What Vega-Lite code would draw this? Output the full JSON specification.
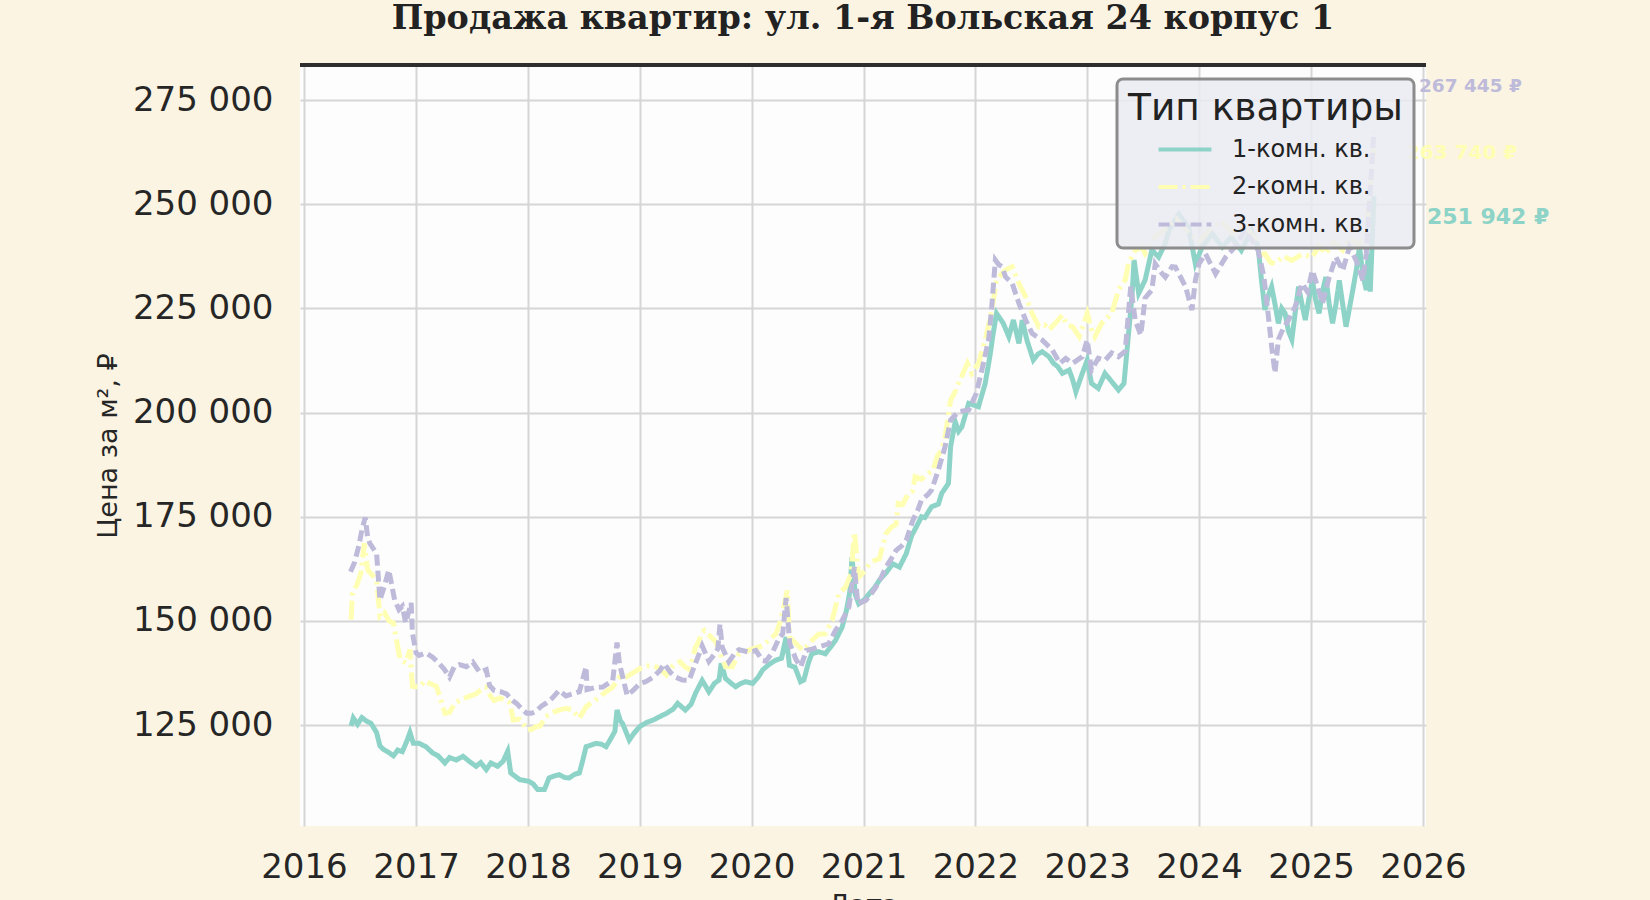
{
  "$schema": "https://vega.github.io/schema/vega-lite/v6.json",
  "width": 1126,
  "height": 761,
  "autosize": "none",
  "padding": {"left": 300, "top": 65, "right": 224, "bottom": 74},
  "background": "#FBF4E2",
  "title": {
    "text": "Продажа квартир: ул. 1-я Вольская 24 корпус 1",
    "font": "DejaVu Serif",
    "fontWeight": "bold",
    "fontSize": 33.4,
    "color": "#222222",
    "anchor": "middle",
    "baseline": "alphabetic",
    "offset": 1
  },
  "config": {
    "view": {"fill": "#FDFDFD", "stroke": null},
    "axis": {
      "labelFont": "DejaVu Sans",
      "labelFontSize": 34,
      "labelColor": "#262626",
      "titleFont": "DejaVu Sans",
      "titleFontSize": 27,
      "titleFontWeight": "normal",
      "titleColor": "#262626",
      "ticks": false,
      "domain": false,
      "grid": true,
      "gridColor": "#D6D6D6",
      "gridWidth": 2
    },
    "legend": {
      "orient": "none",
      "legendX": 817,
      "legendY": 14,
      "titleFont": "DejaVu Sans",
      "titleFontSize": 37.5,
      "titleFontWeight": "normal",
      "titleColor": "#222222",
      "titlePadding": 8,
      "titleLimit": 500,
      "labelLimit": 400,
      "labelFont": "DejaVu Sans",
      "labelFontSize": 24,
      "labelColor": "#222222",
      "symbolType": "M-2.2,0H2.2",
      "symbolSize": 576,
      "symbolStrokeWidth": 4,
      "symbolOffset": 43,
      "labelOffset": 33,
      "rowPadding": 11.5,
      "padding": 11,
      "fillColor": "rgba(234,234,242,0.85)",
      "strokeColor": "#8C8C8C",
      "strokeWidth": 3,
      "cornerRadius": 6
    }
  },
  "datasets": {
    "ends": [
      {"type": "1-комн. кв.", "date": "2025-07-25", "price": 251942, "label": "251 942 ₽"},
      {"type": "2-комн. кв.", "date": "2025-07-25", "price": 263740, "label": "263 740 ₽"},
      {"type": "3-комн. кв.", "date": "2025-07-25", "price": 267445, "label": "267 445 ₽"}
    ],
    "prices": [
{"type":"1-комн. кв.","date":"2016-06-03","price":124800},{"type":"1-комн. кв.","date":"2016-06-10","price":126700},{"type":"1-комн. кв.","date":"2016-06-24","price":125200},{"type":"1-комн. кв.","date":"2016-07-08","price":126800},{"type":"1-комн. кв.","date":"2016-07-22","price":126000},{"type":"1-комн. кв.","date":"2016-08-07","price":125400},{"type":"1-комн. кв.","date":"2016-08-25","price":123200},{"type":"1-комн. кв.","date":"2016-09-05","price":120000},{"type":"1-комн. кв.","date":"2016-09-16","price":119200},{"type":"1-комн. кв.","date":"2016-10-04","price":118400},{"type":"1-комн. кв.","date":"2016-10-19","price":117600},{"type":"1-комн. кв.","date":"2016-11-02","price":119000},{"type":"1-комн. кв.","date":"2016-11-17","price":118600},{"type":"1-комн. кв.","date":"2016-12-01","price":121000},{"type":"1-комн. кв.","date":"2016-12-12","price":123200},{"type":"1-комн. кв.","date":"2016-12-23","price":120600},{"type":"1-комн. кв.","date":"2017-01-11","price":120600},{"type":"1-комн. кв.","date":"2017-02-02","price":119800},{"type":"1-комн. кв.","date":"2017-02-24","price":118300},{"type":"1-комн. кв.","date":"2017-03-14","price":117600},{"type":"1-комн. кв.","date":"2017-04-05","price":115900},{"type":"1-комн. кв.","date":"2017-04-20","price":117200},{"type":"1-комн. кв.","date":"2017-05-12","price":116600},{"type":"1-комн. кв.","date":"2017-06-03","price":117500},{"type":"1-комн. кв.","date":"2017-06-25","price":116200},{"type":"1-комн. кв.","date":"2017-07-16","price":115100},{"type":"1-комн. кв.","date":"2017-07-31","price":116000},{"type":"1-комн. кв.","date":"2017-08-18","price":114300},{"type":"1-комн. кв.","date":"2017-09-02","price":115900},{"type":"1-комн. кв.","date":"2017-09-24","price":115100},{"type":"1-комн. кв.","date":"2017-10-12","price":116300},{"type":"1-комн. кв.","date":"2017-10-27","price":118700},{"type":"1-комн. кв.","date":"2017-11-06","price":113500},{"type":"1-комн. кв.","date":"2017-12-05","price":111900},{"type":"1-комн. кв.","date":"2018-01-04","price":111500},{"type":"1-комн. кв.","date":"2018-01-19","price":110800},{"type":"1-комн. кв.","date":"2018-02-02","price":109500},{"type":"1-комн. кв.","date":"2018-02-24","price":109500},{"type":"1-комн. кв.","date":"2018-03-11","price":112300},{"type":"1-комн. кв.","date":"2018-03-29","price":112800},{"type":"1-комн. кв.","date":"2018-04-13","price":113100},{"type":"1-комн. кв.","date":"2018-05-01","price":112400},{"type":"1-комн. кв.","date":"2018-05-16","price":112300},{"type":"1-комн. кв.","date":"2018-06-03","price":113200},{"type":"1-комн. кв.","date":"2018-06-18","price":113500},{"type":"1-комн. кв.","date":"2018-06-29","price":116500},{"type":"1-комн. кв.","date":"2018-07-10","price":119800},{"type":"1-комн. кв.","date":"2018-07-27","price":120200},{"type":"1-комн. кв.","date":"2018-08-11","price":120600},{"type":"1-комн. кв.","date":"2018-08-29","price":120400},{"type":"1-комн. кв.","date":"2018-09-13","price":119800},{"type":"1-комн. кв.","date":"2018-09-27","price":121500},{"type":"1-комн. кв.","date":"2018-10-12","price":123500},{"type":"1-комн. кв.","date":"2018-10-19","price":128600},{"type":"1-комн. кв.","date":"2018-10-30","price":126000},{"type":"1-комн. кв.","date":"2018-11-06","price":125400},{"type":"1-комн. кв.","date":"2018-11-28","price":121400},{"type":"1-комн. кв.","date":"2018-12-13","price":123000},{"type":"1-комн. кв.","date":"2019-01-01","price":124600},{"type":"1-комн. кв.","date":"2019-01-23","price":125600},{"type":"1-комн. кв.","date":"2019-02-14","price":126200},{"type":"1-комн. кв.","date":"2019-03-07","price":127000},{"type":"1-комн. кв.","date":"2019-03-29","price":127800},{"type":"1-комн. кв.","date":"2019-04-20","price":128800},{"type":"1-комн. кв.","date":"2019-05-05","price":130200},{"type":"1-комн. кв.","date":"2019-05-30","price":128600},{"type":"1-комн. кв.","date":"2019-06-18","price":130000},{"type":"1-комн. кв.","date":"2019-07-02","price":132600},{"type":"1-комн. кв.","date":"2019-07-24","price":135700},{"type":"1-комн. кв.","date":"2019-08-15","price":133000},{"type":"1-комн. кв.","date":"2019-09-02","price":135000},{"type":"1-комн. кв.","date":"2019-09-17","price":135800},{"type":"1-комн. кв.","date":"2019-09-24","price":139800},{"type":"1-комн. кв.","date":"2019-10-08","price":136200},{"type":"1-комн. кв.","date":"2019-10-27","price":135000},{"type":"1-комн. кв.","date":"2019-11-10","price":134200},{"type":"1-комн. кв.","date":"2019-11-28","price":135000},{"type":"1-комн. кв.","date":"2019-12-13","price":135400},{"type":"1-комн. кв.","date":"2020-01-05","price":135000},{"type":"1-комн. кв.","date":"2020-01-23","price":136500},{"type":"1-комн. кв.","date":"2020-02-06","price":138200},{"type":"1-комн. кв.","date":"2020-02-28","price":139600},{"type":"1-комн. кв.","date":"2020-03-21","price":140600},{"type":"1-комн. кв.","date":"2020-04-08","price":141000},{"type":"1-комн. кв.","date":"2020-04-23","price":146100},{"type":"1-комн. кв.","date":"2020-05-04","price":139300},{"type":"1-комн. кв.","date":"2020-05-22","price":138900},{"type":"1-комн. кв.","date":"2020-06-09","price":135400},{"type":"1-комн. кв.","date":"2020-06-20","price":135800},{"type":"1-комн. кв.","date":"2020-07-05","price":140000},{"type":"1-комн. кв.","date":"2020-07-16","price":142100},{"type":"1-комн. кв.","date":"2020-08-07","price":142600},{"type":"1-комн. кв.","date":"2020-08-29","price":142100},{"type":"1-комн. кв.","date":"2020-09-16","price":143800},{"type":"1-комн. кв.","date":"2020-10-01","price":145300},{"type":"1-комн. кв.","date":"2020-10-23","price":148500},{"type":"1-комн. кв.","date":"2020-11-06","price":152500},{"type":"1-комн. кв.","date":"2020-11-17","price":157000},{"type":"1-комн. кв.","date":"2020-11-24","price":165300},{"type":"1-комн. кв.","date":"2020-12-05","price":156300},{"type":"1-комн. кв.","date":"2020-12-16","price":154100},{"type":"1-комн. кв.","date":"2021-01-05","price":155200},{"type":"1-комн. кв.","date":"2021-01-19","price":156500},{"type":"1-комн. кв.","date":"2021-02-06","price":158000},{"type":"1-комн. кв.","date":"2021-02-21","price":159700},{"type":"1-комн. кв.","date":"2021-03-15","price":161500},{"type":"1-комн. кв.","date":"2021-04-06","price":163700},{"type":"1-комн. кв.","date":"2021-04-28","price":162900},{"type":"1-комн. кв.","date":"2021-05-20","price":166100},{"type":"1-комн. кв.","date":"2021-06-07","price":170500},{"type":"1-комн. кв.","date":"2021-06-21","price":172400},{"type":"1-комн. кв.","date":"2021-07-09","price":175000},{"type":"1-комн. кв.","date":"2021-07-20","price":174800},{"type":"1-комн. кв.","date":"2021-08-11","price":177400},{"type":"1-комн. кв.","date":"2021-09-02","price":178000},{"type":"1-комн. кв.","date":"2021-09-13","price":180600},{"type":"1-комн. кв.","date":"2021-10-05","price":183000},{"type":"1-комн. кв.","date":"2021-10-12","price":191800},{"type":"1-комн. кв.","date":"2021-10-27","price":197800},{"type":"1-комн. кв.","date":"2021-11-07","price":195500},{"type":"1-комн. кв.","date":"2021-11-18","price":196600},{"type":"1-комн. кв.","date":"2021-12-10","price":202200},{"type":"1-комн. кв.","date":"2022-01-11","price":201400},{"type":"1-комн. кв.","date":"2022-02-02","price":207000},{"type":"1-комн. кв.","date":"2022-02-17","price":213400},{"type":"1-комн. кв.","date":"2022-02-28","price":219000},{"type":"1-комн. кв.","date":"2022-03-11","price":223800},{"type":"1-комн. кв.","date":"2022-04-02","price":221400},{"type":"1-комн. кв.","date":"2022-04-20","price":218200},{"type":"1-комн. кв.","date":"2022-05-05","price":222200},{"type":"1-комн. кв.","date":"2022-05-23","price":216600},{"type":"1-комн. кв.","date":"2022-06-03","price":222200},{"type":"1-комн. кв.","date":"2022-06-18","price":217400},{"type":"1-комн. кв.","date":"2022-07-09","price":212600},{"type":"1-комн. кв.","date":"2022-07-24","price":214000},{"type":"1-комн. кв.","date":"2022-08-07","price":214600},{"type":"1-комн. кв.","date":"2022-08-29","price":213400},{"type":"1-комн. кв.","date":"2022-09-13","price":211800},{"type":"1-комн. кв.","date":"2022-09-27","price":211000},{"type":"1-комн. кв.","date":"2022-10-12","price":209400},{"type":"1-комн. кв.","date":"2022-11-03","price":210200},{"type":"1-комн. кв.","date":"2022-11-14","price":208000},{"type":"1-комн. кв.","date":"2022-11-25","price":205000},{"type":"1-комн. кв.","date":"2022-12-16","price":209400},{"type":"1-комн. кв.","date":"2023-01-01","price":212600},{"type":"1-комн. кв.","date":"2023-01-15","price":207000},{"type":"1-комн. кв.","date":"2023-02-06","price":205800},{"type":"1-комн. кв.","date":"2023-02-28","price":209400},{"type":"1-комн. кв.","date":"2023-03-22","price":207400},{"type":"1-комн. кв.","date":"2023-04-13","price":205400},{"type":"1-комн. кв.","date":"2023-05-01","price":207000},{"type":"1-комн. кв.","date":"2023-05-12","price":215800},{"type":"1-комн. кв.","date":"2023-05-27","price":227800},{"type":"1-комн. кв.","date":"2023-06-03","price":236600},{"type":"1-комн. кв.","date":"2023-06-18","price":228600},{"type":"1-комн. кв.","date":"2023-07-09","price":231800},{"type":"1-комн. кв.","date":"2023-07-31","price":239000},{"type":"1-комн. кв.","date":"2023-08-22","price":237300},{"type":"1-комн. кв.","date":"2023-09-13","price":240600},{"type":"1-комн. кв.","date":"2023-09-24","price":243700},{"type":"1-комн. кв.","date":"2023-10-27","price":247600},{"type":"1-комн. кв.","date":"2023-11-28","price":244400},{"type":"1-комн. кв.","date":"2023-12-20","price":235700},{"type":"1-комн. кв.","date":"2024-01-11","price":239700},{"type":"1-комн. кв.","date":"2024-02-13","price":242900},{"type":"1-комн. кв.","date":"2024-03-17","price":239700},{"type":"1-комн. кв.","date":"2024-04-15","price":242100},{"type":"1-комн. кв.","date":"2024-05-18","price":238900},{"type":"1-комн. кв.","date":"2024-06-20","price":243700},{"type":"1-комн. кв.","date":"2024-07-12","price":239700},{"type":"1-комн. кв.","date":"2024-07-23","price":231700},{"type":"1-комн. кв.","date":"2024-08-03","price":224600},{"type":"1-комн. кв.","date":"2024-08-14","price":228000},{"type":"1-комн. кв.","date":"2024-08-25","price":230200},{"type":"1-комн. кв.","date":"2024-09-05","price":226000},{"type":"1-комн. кв.","date":"2024-09-16","price":221400},{"type":"1-комн. кв.","date":"2024-09-27","price":225000},{"type":"1-комн. кв.","date":"2024-10-08","price":223800},{"type":"1-комн. кв.","date":"2024-10-19","price":219500},{"type":"1-комн. кв.","date":"2024-10-30","price":217500},{"type":"1-комн. кв.","date":"2024-11-10","price":224000},{"type":"1-комн. кв.","date":"2024-11-21","price":230200},{"type":"1-комн. кв.","date":"2024-12-02","price":226000},{"type":"1-комн. кв.","date":"2024-12-13","price":222200},{"type":"1-комн. кв.","date":"2024-12-24","price":227000},{"type":"1-комн. кв.","date":"2025-01-05","price":231700},{"type":"1-комн. кв.","date":"2025-01-16","price":227000},{"type":"1-комн. кв.","date":"2025-01-27","price":223800},{"type":"1-комн. кв.","date":"2025-02-07","price":229000},{"type":"1-комн. кв.","date":"2025-02-18","price":232500},{"type":"1-комн. кв.","date":"2025-03-01","price":226000},{"type":"1-комн. кв.","date":"2025-03-12","price":221400},{"type":"1-комн. кв.","date":"2025-03-23","price":226000},{"type":"1-комн. кв.","date":"2025-04-03","price":231700},{"type":"1-комн. кв.","date":"2025-04-14","price":226000},{"type":"1-комн. кв.","date":"2025-04-25","price":220600},{"type":"1-комн. кв.","date":"2025-05-06","price":225000},{"type":"1-комн. кв.","date":"2025-05-17","price":229400},{"type":"1-комн. кв.","date":"2025-05-28","price":234000},{"type":"1-комн. кв.","date":"2025-06-08","price":239700},{"type":"1-комн. кв.","date":"2025-06-19","price":233000},{"type":"1-комн. кв.","date":"2025-06-30","price":229400},{"type":"1-комн. кв.","date":"2025-07-06","price":238100},{"type":"1-комн. кв.","date":"2025-07-13","price":229000},{"type":"1-комн. кв.","date":"2025-07-25","price":251942},
{"type":"2-комн. кв.","date":"2016-06-03","price":150300},{"type":"2-комн. кв.","date":"2016-06-07","price":156700},{"type":"2-комн. кв.","date":"2016-06-21","price":158500},{"type":"2-комн. кв.","date":"2016-07-05","price":161500},{"type":"2-комн. кв.","date":"2016-07-16","price":168600},{"type":"2-комн. кв.","date":"2016-07-27","price":162200},{"type":"2-комн. кв.","date":"2016-08-11","price":161000},{"type":"2-комн. кв.","date":"2016-08-25","price":159800},{"type":"2-комн. кв.","date":"2016-09-05","price":151100},{"type":"2-комн. кв.","date":"2016-09-20","price":152000},{"type":"2-комн. кв.","date":"2016-10-04","price":150000},{"type":"2-комн. кв.","date":"2016-10-19","price":149500},{"type":"2-комн. кв.","date":"2016-10-30","price":145000},{"type":"2-комн. кв.","date":"2016-11-10","price":140700},{"type":"2-комн. кв.","date":"2016-11-28","price":139900},{"type":"2-комн. кв.","date":"2016-12-12","price":143100},{"type":"2-комн. кв.","date":"2016-12-20","price":134300},{"type":"2-комн. кв.","date":"2017-01-11","price":134100},{"type":"2-комн. кв.","date":"2017-01-30","price":135600},{"type":"2-комн. кв.","date":"2017-02-17","price":134900},{"type":"2-комн. кв.","date":"2017-03-08","price":134300},{"type":"2-комн. кв.","date":"2017-03-23","price":131000},{"type":"2-комн. кв.","date":"2017-04-05","price":127800},{"type":"2-комн. кв.","date":"2017-04-20","price":128000},{"type":"2-комн. кв.","date":"2017-05-08","price":130300},{"type":"2-комн. кв.","date":"2017-05-23","price":130900},{"type":"2-комн. кв.","date":"2017-06-10","price":131500},{"type":"2-комн. кв.","date":"2017-06-28","price":132000},{"type":"2-комн. кв.","date":"2017-07-16","price":132500},{"type":"2-комн. кв.","date":"2017-07-31","price":133400},{"type":"2-комн. кв.","date":"2017-08-18","price":134100},{"type":"2-комн. кв.","date":"2017-09-02","price":131800},{"type":"2-комн. кв.","date":"2017-09-13","price":130900},{"type":"2-комн. кв.","date":"2017-10-01","price":131500},{"type":"2-комн. кв.","date":"2017-10-23","price":130900},{"type":"2-комн. кв.","date":"2017-11-03","price":130300},{"type":"2-комн. кв.","date":"2017-11-14","price":126200},{"type":"2-комн. кв.","date":"2017-12-05","price":126400},{"type":"2-комн. кв.","date":"2018-01-01","price":123800},{"type":"2-комн. кв.","date":"2018-01-15","price":124000},{"type":"2-комн. кв.","date":"2018-01-26","price":124600},{"type":"2-комн. кв.","date":"2018-02-10","price":124800},{"type":"2-комн. кв.","date":"2018-02-28","price":127000},{"type":"2-комн. кв.","date":"2018-03-22","price":128000},{"type":"2-комн. кв.","date":"2018-04-13","price":128600},{"type":"2-комн. кв.","date":"2018-05-05","price":129000},{"type":"2-комн. кв.","date":"2018-05-27","price":128600},{"type":"2-комн. кв.","date":"2018-06-18","price":126600},{"type":"2-комн. кв.","date":"2018-07-10","price":129400},{"type":"2-комн. кв.","date":"2018-07-31","price":130500},{"type":"2-комн. кв.","date":"2018-08-22","price":131700},{"type":"2-комн. кв.","date":"2018-09-13","price":133000},{"type":"2-комн. кв.","date":"2018-10-05","price":134100},{"type":"2-комн. кв.","date":"2018-10-27","price":136500},{"type":"2-комн. кв.","date":"2018-11-18","price":136500},{"type":"2-комн. кв.","date":"2018-12-10","price":137500},{"type":"2-комн. кв.","date":"2019-01-01","price":138500},{"type":"2-комн. кв.","date":"2019-01-23","price":139200},{"type":"2-комн. кв.","date":"2019-02-14","price":139300},{"type":"2-комн. кв.","date":"2019-03-07","price":138500},{"type":"2-комн. кв.","date":"2019-03-29","price":137000},{"type":"2-комн. кв.","date":"2019-04-20","price":139300},{"type":"2-комн. кв.","date":"2019-05-12","price":140200},{"type":"2-комн. кв.","date":"2019-05-30","price":138900},{"type":"2-комн. кв.","date":"2019-06-14","price":138200},{"type":"2-комн. кв.","date":"2019-07-02","price":143700},{"type":"2-комн. кв.","date":"2019-07-09","price":144500},{"type":"2-комн. кв.","date":"2019-07-24","price":147200},{"type":"2-комн. кв.","date":"2019-07-31","price":147700},{"type":"2-комн. кв.","date":"2019-08-22","price":146100},{"type":"2-комн. кв.","date":"2019-09-06","price":145000},{"type":"2-комн. кв.","date":"2019-09-17","price":142900},{"type":"2-комн. кв.","date":"2019-10-08","price":139000},{"type":"2-комн. кв.","date":"2019-10-30","price":139000},{"type":"2-комн. кв.","date":"2019-11-21","price":142100},{"type":"2-комн. кв.","date":"2019-12-13","price":142700},{"type":"2-комн. кв.","date":"2020-01-05","price":143300},{"type":"2-комн. кв.","date":"2020-02-06","price":144000},{"type":"2-комн. кв.","date":"2020-02-28","price":145500},{"type":"2-комн. кв.","date":"2020-03-21","price":146900},{"type":"2-комн. кв.","date":"2020-04-05","price":150100},{"type":"2-комн. кв.","date":"2020-04-27","price":157300},{"type":"2-комн. кв.","date":"2020-05-04","price":146100},{"type":"2-комн. кв.","date":"2020-05-26","price":144500},{"type":"2-комн. кв.","date":"2020-06-17","price":142900},{"type":"2-комн. кв.","date":"2020-07-02","price":144000},{"type":"2-комн. кв.","date":"2020-07-16","price":145300},{"type":"2-комн. кв.","date":"2020-08-07","price":146800},{"type":"2-комн. кв.","date":"2020-08-29","price":146900},{"type":"2-комн. кв.","date":"2020-09-20","price":150100},{"type":"2-комн. кв.","date":"2020-10-12","price":156500},{"type":"2-комн. кв.","date":"2020-11-03","price":158100},{"type":"2-комн. кв.","date":"2020-11-21","price":161300},{"type":"2-комн. кв.","date":"2020-12-02","price":171300},{"type":"2-комн. кв.","date":"2020-12-16","price":160500},{"type":"2-комн. кв.","date":"2021-01-05","price":162000},{"type":"2-комн. кв.","date":"2021-01-19","price":163700},{"type":"2-комн. кв.","date":"2021-02-06","price":164500},{"type":"2-комн. кв.","date":"2021-02-21","price":164900},{"type":"2-комн. кв.","date":"2021-03-15","price":170900},{"type":"2-комн. кв.","date":"2021-04-02","price":172500},{"type":"2-комн. кв.","date":"2021-04-17","price":173200},{"type":"2-комн. кв.","date":"2021-04-24","price":178200},{"type":"2-комн. кв.","date":"2021-05-09","price":178000},{"type":"2-комн. кв.","date":"2021-05-27","price":180600},{"type":"2-комн. кв.","date":"2021-06-10","price":181200},{"type":"2-комн. кв.","date":"2021-06-18","price":184600},{"type":"2-комн. кв.","date":"2021-07-09","price":184000},{"type":"2-комн. кв.","date":"2021-07-31","price":185400},{"type":"2-комн. кв.","date":"2021-08-15","price":186000},{"type":"2-комн. кв.","date":"2021-08-29","price":189400},{"type":"2-комн. кв.","date":"2021-09-13","price":191000},{"type":"2-комн. кв.","date":"2021-09-24","price":194200},{"type":"2-комн. кв.","date":"2021-10-12","price":203000},{"type":"2-комн. кв.","date":"2021-10-27","price":205000},{"type":"2-комн. кв.","date":"2021-11-07","price":207000},{"type":"2-комн. кв.","date":"2021-11-25","price":210000},{"type":"2-комн. кв.","date":"2021-12-06","price":211800},{"type":"2-комн. кв.","date":"2021-12-20","price":209400},{"type":"2-комн. кв.","date":"2022-01-11","price":211800},{"type":"2-комн. кв.","date":"2022-02-02","price":217400},{"type":"2-комн. кв.","date":"2022-02-24","price":224600},{"type":"2-комн. кв.","date":"2022-03-11","price":231800},{"type":"2-комн. кв.","date":"2022-03-25","price":233000},{"type":"2-комн. кв.","date":"2022-04-09","price":234200},{"type":"2-комн. кв.","date":"2022-05-01","price":235000},{"type":"2-комн. кв.","date":"2022-05-12","price":233000},{"type":"2-комн. кв.","date":"2022-05-23","price":231000},{"type":"2-комн. кв.","date":"2022-06-14","price":227800},{"type":"2-комн. кв.","date":"2022-07-05","price":223800},{"type":"2-комн. кв.","date":"2022-07-27","price":220600},{"type":"2-комн. кв.","date":"2022-08-15","price":221000},{"type":"2-комн. кв.","date":"2022-08-29","price":219800},{"type":"2-комн. кв.","date":"2022-09-20","price":221500},{"type":"2-комн. кв.","date":"2022-10-12","price":223400},{"type":"2-комн. кв.","date":"2022-10-27","price":221000},{"type":"2-комн. кв.","date":"2022-11-14","price":220600},{"type":"2-комн. кв.","date":"2022-12-06","price":218200},{"type":"2-комн. кв.","date":"2023-01-01","price":223800},{"type":"2-комн. кв.","date":"2023-01-15","price":220000},{"type":"2-комн. кв.","date":"2023-01-26","price":218200},{"type":"2-комн. кв.","date":"2023-02-17","price":221400},{"type":"2-комн. кв.","date":"2023-02-28","price":222200},{"type":"2-комн. кв.","date":"2023-03-22","price":223800},{"type":"2-комн. кв.","date":"2023-04-13","price":229400},{"type":"2-комн. кв.","date":"2023-05-05","price":231800},{"type":"2-комн. кв.","date":"2023-05-16","price":235800},{"type":"2-комн. кв.","date":"2023-06-07","price":239000},{"type":"2-комн. кв.","date":"2023-06-29","price":239700},{"type":"2-комн. кв.","date":"2023-07-09","price":238200},{"type":"2-комн. кв.","date":"2023-08-08","price":242000},{"type":"2-комн. кв.","date":"2023-09-13","price":244000},{"type":"2-комн. кв.","date":"2023-10-19","price":246500},{"type":"2-комн. кв.","date":"2023-11-24","price":243500},{"type":"2-комн. кв.","date":"2024-01-01","price":241000},{"type":"2-комн. кв.","date":"2024-02-06","price":244000},{"type":"2-комн. кв.","date":"2024-03-13","price":246000},{"type":"2-комн. кв.","date":"2024-04-19","price":243000},{"type":"2-комн. кв.","date":"2024-05-26","price":245000},{"type":"2-комн. кв.","date":"2024-07-02","price":242000},{"type":"2-комн. кв.","date":"2024-07-23","price":238000},{"type":"2-комн. кв.","date":"2024-08-03","price":238100},{"type":"2-комн. кв.","date":"2024-08-22","price":236000},{"type":"2-комн. кв.","date":"2024-09-05","price":235700},{"type":"2-комн. кв.","date":"2024-10-01","price":237500},{"type":"2-комн. кв.","date":"2024-10-30","price":236500},{"type":"2-комн. кв.","date":"2024-12-02","price":238000},{"type":"2-комн. кв.","date":"2025-01-05","price":237300},{"type":"2-комн. кв.","date":"2025-01-27","price":240000},{"type":"2-комн. кв.","date":"2025-02-18","price":238100},{"type":"2-комн. кв.","date":"2025-03-15","price":241000},{"type":"2-комн. кв.","date":"2025-04-14","price":239000},{"type":"2-комн. кв.","date":"2025-05-09","price":242000},{"type":"2-комн. кв.","date":"2025-06-04","price":240000},{"type":"2-комн. кв.","date":"2025-06-30","price":243000},{"type":"2-комн. кв.","date":"2025-07-25","price":263740},
{"type":"3-комн. кв.","date":"2016-06-01","price":161800},{"type":"3-комн. кв.","date":"2016-06-14","price":164000},{"type":"3-комн. кв.","date":"2016-06-28","price":168000},{"type":"3-комн. кв.","date":"2016-07-08","price":171800},{"type":"3-комн. кв.","date":"2016-07-19","price":174800},{"type":"3-комн. кв.","date":"2016-07-27","price":170000},{"type":"3-комн. кв.","date":"2016-08-03","price":168600},{"type":"3-комн. кв.","date":"2016-08-25","price":166200},{"type":"3-комн. кв.","date":"2016-09-05","price":155000},{"type":"3-комн. кв.","date":"2016-09-20","price":158500},{"type":"3-комн. кв.","date":"2016-10-04","price":162200},{"type":"3-комн. кв.","date":"2016-10-23","price":155000},{"type":"3-комн. кв.","date":"2016-11-06","price":152700},{"type":"3-комн. кв.","date":"2016-11-17","price":153500},{"type":"3-комн. кв.","date":"2016-11-28","price":149500},{"type":"3-комн. кв.","date":"2016-12-16","price":154300},{"type":"3-комн. кв.","date":"2016-12-20","price":147100},{"type":"3-комн. кв.","date":"2017-01-01","price":142300},{"type":"3-комн. кв.","date":"2017-01-11","price":141700},{"type":"3-комн. кв.","date":"2017-02-02","price":142300},{"type":"3-комн. кв.","date":"2017-02-24","price":141300},{"type":"3-комн. кв.","date":"2017-03-14","price":140000},{"type":"3-комн. кв.","date":"2017-04-02","price":138500},{"type":"3-комн. кв.","date":"2017-04-20","price":136500},{"type":"3-комн. кв.","date":"2017-05-05","price":138900},{"type":"3-комн. кв.","date":"2017-05-23","price":139500},{"type":"3-комн. кв.","date":"2017-06-14","price":139000},{"type":"3-комн. кв.","date":"2017-07-05","price":140100},{"type":"3-комн. кв.","date":"2017-07-27","price":137700},{"type":"3-комн. кв.","date":"2017-08-18","price":138300},{"type":"3-комн. кв.","date":"2017-08-29","price":134500},{"type":"3-комн. кв.","date":"2017-09-13","price":133300},{"type":"3-комн. кв.","date":"2017-10-04","price":133000},{"type":"3-комн. кв.","date":"2017-10-23","price":132500},{"type":"3-комн. кв.","date":"2017-11-10","price":131000},{"type":"3-комн. кв.","date":"2017-11-25","price":130200},{"type":"3-комн. кв.","date":"2017-12-13","price":128800},{"type":"3-комн. кв.","date":"2017-12-28","price":127800},{"type":"3-комн. кв.","date":"2018-01-12","price":127800},{"type":"3-комн. кв.","date":"2018-01-26","price":128200},{"type":"3-комн. кв.","date":"2018-02-14","price":129500},{"type":"3-комн. кв.","date":"2018-02-28","price":130200},{"type":"3-комн. кв.","date":"2018-03-22","price":131500},{"type":"3-комн. кв.","date":"2018-04-13","price":133300},{"type":"3-комн. кв.","date":"2018-05-05","price":132000},{"type":"3-комн. кв.","date":"2018-05-27","price":132500},{"type":"3-комн. кв.","date":"2018-06-18","price":133000},{"type":"3-комн. кв.","date":"2018-07-10","price":139000},{"type":"3-комн. кв.","date":"2018-07-13","price":133500},{"type":"3-комн. кв.","date":"2018-08-08","price":134000},{"type":"3-комн. кв.","date":"2018-09-02","price":134100},{"type":"3-комн. кв.","date":"2018-10-05","price":135700},{"type":"3-комн. кв.","date":"2018-10-19","price":144800},{"type":"3-комн. кв.","date":"2018-10-27","price":139700},{"type":"3-комн. кв.","date":"2018-11-21","price":132100},{"type":"3-комн. кв.","date":"2018-12-13","price":133500},{"type":"3-комн. кв.","date":"2019-01-01","price":134900},{"type":"3-комн. кв.","date":"2019-01-23","price":135500},{"type":"3-комн. кв.","date":"2019-02-14","price":136500},{"type":"3-комн. кв.","date":"2019-03-07","price":138000},{"type":"3-комн. кв.","date":"2019-03-22","price":139700},{"type":"3-комн. кв.","date":"2019-04-13","price":137500},{"type":"3-комн. кв.","date":"2019-04-28","price":136500},{"type":"3-комн. кв.","date":"2019-05-20","price":135800},{"type":"3-комн. кв.","date":"2019-06-11","price":135700},{"type":"3-комн. кв.","date":"2019-06-28","price":139000},{"type":"3-комн. кв.","date":"2019-07-24","price":144000},{"type":"3-комн. кв.","date":"2019-08-15","price":140300},{"type":"3-комн. кв.","date":"2019-09-02","price":142000},{"type":"3-комн. кв.","date":"2019-09-13","price":143300},{"type":"3-комн. кв.","date":"2019-09-20","price":149200},{"type":"3-комн. кв.","date":"2019-09-27","price":143700},{"type":"3-комн. кв.","date":"2019-10-19","price":140200},{"type":"3-комн. кв.","date":"2019-11-10","price":142500},{"type":"3-комн. кв.","date":"2019-11-21","price":143100},{"type":"3-комн. кв.","date":"2019-12-24","price":142500},{"type":"3-комн. кв.","date":"2020-01-15","price":142900},{"type":"3-комн. кв.","date":"2020-02-06","price":140500},{"type":"3-комн. кв.","date":"2020-02-17","price":140300},{"type":"3-комн. кв.","date":"2020-03-10","price":142500},{"type":"3-комн. кв.","date":"2020-04-01","price":146000},{"type":"3-комн. кв.","date":"2020-04-12","price":146900},{"type":"3-комн. кв.","date":"2020-04-23","price":155500},{"type":"3-комн. кв.","date":"2020-05-05","price":144500},{"type":"3-комн. кв.","date":"2020-05-26","price":140600},{"type":"3-комн. кв.","date":"2020-06-10","price":139000},{"type":"3-комн. кв.","date":"2020-06-28","price":142900},{"type":"3-комн. кв.","date":"2020-07-16","price":143200},{"type":"3-комн. кв.","date":"2020-08-07","price":143700},{"type":"3-комн. кв.","date":"2020-09-09","price":144500},{"type":"3-комн. кв.","date":"2020-10-01","price":147700},{"type":"3-комн. кв.","date":"2020-10-23","price":150100},{"type":"3-комн. кв.","date":"2020-11-14","price":153300},{"type":"3-комн. кв.","date":"2020-12-02","price":162900},{"type":"3-комн. кв.","date":"2020-12-13","price":154100},{"type":"3-комн. кв.","date":"2021-01-08","price":154900},{"type":"3-комн. кв.","date":"2021-01-26","price":156500},{"type":"3-комн. кв.","date":"2021-02-10","price":158100},{"type":"3-комн. кв.","date":"2021-02-28","price":160500},{"type":"3-комн. кв.","date":"2021-03-15","price":162900},{"type":"3-комн. кв.","date":"2021-04-02","price":165000},{"type":"3-комн. кв.","date":"2021-04-17","price":166900},{"type":"3-комн. кв.","date":"2021-05-05","price":168000},{"type":"3-комн. кв.","date":"2021-05-20","price":169300},{"type":"3-комн. кв.","date":"2021-06-10","price":174000},{"type":"3-комн. кв.","date":"2021-06-28","price":176800},{"type":"3-комн. кв.","date":"2021-07-09","price":179000},{"type":"3-комн. кв.","date":"2021-07-31","price":180400},{"type":"3-комн. кв.","date":"2021-08-11","price":181400},{"type":"3-комн. кв.","date":"2021-09-02","price":186200},{"type":"3-комн. кв.","date":"2021-09-24","price":191800},{"type":"3-комн. кв.","date":"2021-10-12","price":198200},{"type":"3-комн. кв.","date":"2021-11-07","price":200200},{"type":"3-комн. кв.","date":"2021-12-10","price":200600},{"type":"3-комн. кв.","date":"2022-01-04","price":204600},{"type":"3-комн. кв.","date":"2022-01-22","price":210200},{"type":"3-комн. кв.","date":"2022-02-13","price":217400},{"type":"3-комн. кв.","date":"2022-02-24","price":226000},{"type":"3-комн. кв.","date":"2022-03-07","price":236600},{"type":"3-комн. кв.","date":"2022-03-18","price":235500},{"type":"3-комн. кв.","date":"2022-03-29","price":235000},{"type":"3-комн. кв.","date":"2022-04-09","price":232600},{"type":"3-комн. кв.","date":"2022-05-01","price":231000},{"type":"3-комн. кв.","date":"2022-05-23","price":226200},{"type":"3-комн. кв.","date":"2022-06-14","price":222200},{"type":"3-комн. кв.","date":"2022-07-05","price":219000},{"type":"3-комн. кв.","date":"2022-07-24","price":218000},{"type":"3-комн. кв.","date":"2022-08-07","price":217400},{"type":"3-комн. кв.","date":"2022-09-09","price":215000},{"type":"3-комн. кв.","date":"2022-10-04","price":211800},{"type":"3-комн. кв.","date":"2022-10-23","price":213000},{"type":"3-комн. кв.","date":"2022-11-14","price":211800},{"type":"3-комн. кв.","date":"2022-12-16","price":213400},{"type":"3-комн. кв.","date":"2023-01-01","price":217400},{"type":"3-комн. кв.","date":"2023-01-15","price":210200},{"type":"3-комн. кв.","date":"2023-02-06","price":213000},{"type":"3-комн. кв.","date":"2023-02-28","price":212500},{"type":"3-комн. кв.","date":"2023-03-22","price":214300},{"type":"3-комн. кв.","date":"2023-04-13","price":213400},{"type":"3-комн. кв.","date":"2023-05-05","price":214700},{"type":"3-комн. кв.","date":"2023-05-23","price":230200},{"type":"3-комн. кв.","date":"2023-06-07","price":222000},{"type":"3-комн. кв.","date":"2023-06-25","price":218600},{"type":"3-комн. кв.","date":"2023-07-09","price":227500},{"type":"3-комн. кв.","date":"2023-07-31","price":229400},{"type":"3-комн. кв.","date":"2023-08-11","price":235700},{"type":"3-комн. кв.","date":"2023-09-02","price":233400},{"type":"3-комн. кв.","date":"2023-09-13","price":232500},{"type":"3-комн. кв.","date":"2023-10-05","price":235000},{"type":"3-комн. кв.","date":"2023-10-16","price":234900},{"type":"3-комн. кв.","date":"2023-11-18","price":230200},{"type":"3-комн. кв.","date":"2023-12-09","price":224600},{"type":"3-комн. кв.","date":"2023-12-20","price":231700},{"type":"3-комн. кв.","date":"2024-01-01","price":235700},{"type":"3-комн. кв.","date":"2024-01-22","price":238100},{"type":"3-комн. кв.","date":"2024-02-24","price":233300},{"type":"3-комн. кв.","date":"2024-03-28","price":237300},{"type":"3-комн. кв.","date":"2024-04-27","price":239700},{"type":"3-комн. кв.","date":"2024-05-30","price":243700},{"type":"3-комн. кв.","date":"2024-06-25","price":241000},{"type":"3-комн. кв.","date":"2024-07-12","price":238900},{"type":"3-комн. кв.","date":"2024-07-31","price":232500},{"type":"3-комн. кв.","date":"2024-08-11","price":225400},{"type":"3-комн. кв.","date":"2024-08-25","price":215900},{"type":"3-комн. кв.","date":"2024-09-05","price":209500},{"type":"3-комн. кв.","date":"2024-09-16","price":217500},{"type":"3-комн. кв.","date":"2024-10-01","price":220000},{"type":"3-комн. кв.","date":"2024-10-19","price":222200},{"type":"3-комн. кв.","date":"2024-11-10","price":225400},{"type":"3-комн. кв.","date":"2024-12-02","price":231000},{"type":"3-комн. кв.","date":"2024-12-20","price":229000},{"type":"3-комн. кв.","date":"2025-01-05","price":234100},{"type":"3-комн. кв.","date":"2025-01-23","price":230000},{"type":"3-комн. кв.","date":"2025-02-07","price":226200},{"type":"3-комн. кв.","date":"2025-03-01","price":232500},{"type":"3-комн. кв.","date":"2025-03-23","price":237300},{"type":"3-комн. кв.","date":"2025-04-14","price":234100},{"type":"3-комн. кв.","date":"2025-05-06","price":239700},{"type":"3-комн. кв.","date":"2025-05-28","price":236500},{"type":"3-комн. кв.","date":"2025-06-19","price":231700},{"type":"3-комн. кв.","date":"2025-06-30","price":238100},{"type":"3-комн. кв.","date":"2025-07-25","price":267445}
    ]
  },
  "layer": [
    {
      "data": {"name": "prices"},
      "mark": {"type": "line", "strokeWidth": 5, "strokeCap": "butt", "strokeJoin": "miter"},
      "encoding": {
        "x": {"field": "date", "type": "temporal",
              "scale": {"domain": ["2015-12-19", "2026-01-11"]},
              "axis": {"format": "%Y", "tickCount": {"interval": "year", "step": 1}, "labelPadding": 24, "title": "Дата", "titlePadding": 8}},
        "y": {"field": "price", "type": "quantitative",
              "scale": {"domain": [100770, 283400], "nice": false, "zero": false},
              "axis": {"values": [125000, 150000, 175000, 200000, 225000, 250000, 275000],
                       "labelExpr": "replace(format(datum.value, ',d'), ',', ' ')",
                       "labelPadding": 27, "title": "Цена за м², ₽", "titlePadding": 10}},
        "color": {"field": "type", "type": "nominal", "title": "Тип квартиры",
                  "scale": {"domain": ["1-комн. кв.", "2-комн. кв.", "3-комн. кв."], "range": ["#8dd3c7", "#ffffb3", "#bebada"]}},
        "strokeDash": {"field": "type", "type": "nominal", "title": "Тип квартиры",
                       "scale": {"domain": ["1-комн. кв.", "2-комн. кв.", "3-комн. кв."], "range": [[1, 0], [19, 5, 3, 5], [11, 5]]}}
      }
    },
    {
      "data": {"name": "ends"},
      "transform": [{"filter": "datum.type == '3-комн. кв.'"}],
      "mark": {"type": "text", "align": "left", "baseline": "middle", "font": "DejaVu Sans", "fontWeight": "bold", "fontSize": 18.5, "dx": 45, "dy": -45, "color": "#bebada"},
      "encoding": {"x": {"field": "date", "type": "temporal"}, "y": {"field": "price", "type": "quantitative"}, "text": {"field": "label"}}
    },
    {
      "data": {"name": "ends"},
      "transform": [{"filter": "datum.type == '2-комн. кв.'"}],
      "mark": {"type": "text", "align": "left", "baseline": "middle", "font": "DejaVu Sans", "fontWeight": "bold", "fontSize": 20, "dx": 32, "dy": 6, "color": "#ffffb3"},
      "encoding": {"x": {"field": "date", "type": "temporal"}, "y": {"field": "price", "type": "quantitative"}, "text": {"field": "label"}}
    },
    {
      "data": {"name": "ends"},
      "transform": [{"filter": "datum.type == '1-комн. кв.'"}],
      "mark": {"type": "text", "align": "left", "baseline": "middle", "font": "DejaVu Sans", "fontWeight": "bold", "fontSize": 22, "dx": 53, "dy": 21, "color": "#8dd3c7"},
      "encoding": {"x": {"field": "date", "type": "temporal"}, "y": {"field": "price", "type": "quantitative"}, "text": {"field": "label"}}
    },
    {
      "data": {"values": [{"top": 283400}]},
      "mark": {"type": "rule", "color": "#2e2e2e", "strokeWidth": 4},
      "encoding": {"y": {"field": "top", "type": "quantitative"}}
    }
  ]
}
